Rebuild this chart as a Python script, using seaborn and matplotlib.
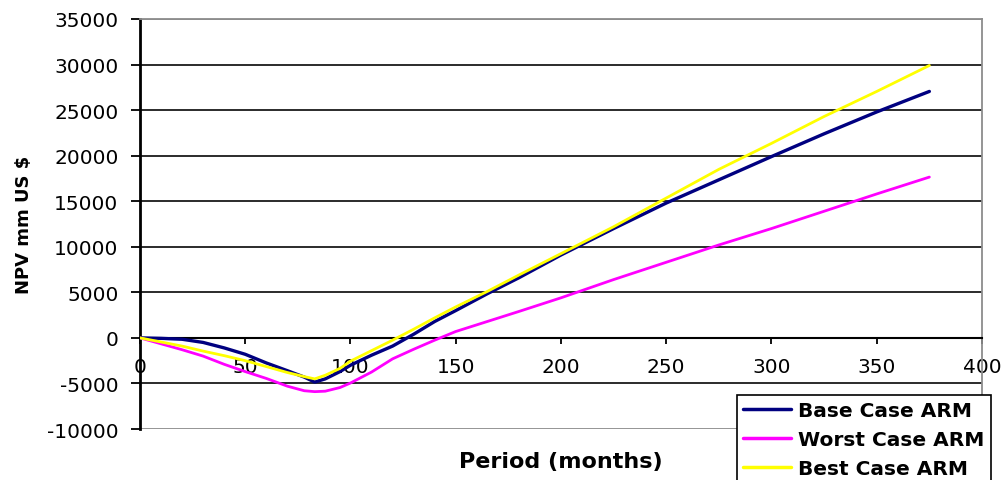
import matplotlib
matplotlib.use("Agg")
import matplotlib.pyplot as plt
import pandas as pd
import seaborn as sns

# Period in months and NPV (mm US $) for each ARM scenario
period = [0, 10, 20, 30, 40, 50, 60, 70, 78, 83, 88, 95, 100, 110, 120, 130,
          140, 150, 165, 180, 200, 225, 250, 275, 300, 325, 350, 375]

base_case = [0, -50, -150, -500, -1100, -1800, -2750, -3600, -4300, -4850,
             -4500, -3700, -3000, -1900, -900, 400, 1800, 3000, 4850, 6600,
             9100, 12000, 14800, 17350, 19900, 22400, 24800, 27050]

worst_case = [0, -650, -1300, -2000, -2900, -3700, -4450, -5300, -5800, -5900,
              -5850, -5450, -4950, -3750, -2300, -1250, -250, 700, 1800, 2900,
              4400, 6400, 8300, 10200, 12000, 13900, 15800, 17650]

best_case = [0, -450, -900, -1450, -1950, -2500, -3150, -3800, -4250, -4500,
             -4100, -3350, -2550, -1400, -250, 950, 2200, 3400, 5100, 6900,
             9250, 12200, 15350, 18500, 21350, 24300, 27050, 29900]

series_names = ["Base Case ARM", "Worst Case ARM", "Best Case ARM"]
series_colors = ["#000080", "#FF00FF", "#FFFF00"]

x_ticks = [0, 50, 100, 150, 200, 250, 300, 350, 400]
y_ticks = [-10000, -5000, 0, 5000, 10000, 15000, 20000, 25000, 30000, 35000]

df = pd.DataFrame({
    "Period": period * 3,
    "NPV": base_case + worst_case + best_case,
    "Case": [series_names[0]] * len(period)
            + [series_names[1]] * len(period)
            + [series_names[2]] * len(period),
})

sns.set_theme(style="white")
plt.rcParams["font.family"] = ["DejaVu Sans"]
plt.rcParams["text.color"] = "black"
plt.rcParams["axes.labelcolor"] = "black"

fig = plt.figure(figsize=(10.04, 4.81), dpi=100)
ax = fig.add_axes([140 / 1004, 1 - 430 / 481, 842 / 1004, 410 / 481])

widths = {series_names[0]: 2.4, series_names[1]: 2.0, series_names[2]: 2.0}
for name, color in zip(series_names, series_colors):
    sns.lineplot(data=df[df["Case"] == name], x="Period", y="NPV",
                 color=color, linewidth=widths[name], ax=ax, label=name,
                 legend=False, zorder=3)

ax.set_xlim(0, 400)
ax.set_ylim(-10000, 35000)
ax.set_xticks(x_ticks)
ax.set_yticks(y_ticks)
ax.set_xticklabels([str(v) for v in x_ticks])
ax.set_yticklabels([str(v) for v in y_ticks])

# horizontal gridlines; the outer two act as the plot-area border
ax.yaxis.grid(True, color="#1a1a1a", linewidth=1.3)
ax.xaxis.grid(False)
ax.set_axisbelow(True)
grid = ax.yaxis.get_gridlines()
grid[0].set_color("#8c8c8c")
grid[-1].set_color("#8c8c8c")

# x axis sits on the zero line
ax.spines["bottom"].set_position(("data", 0))
ax.spines["bottom"].set_color("black")
ax.spines["bottom"].set_linewidth(1.5)
ax.spines["left"].set_color("black")
ax.spines["left"].set_linewidth(2.0)
ax.spines["top"].set_color("#8c8c8c")
ax.spines["top"].set_linewidth(1.3)
ax.spines["right"].set_color("#8c8c8c")
ax.spines["right"].set_linewidth(1.3)

ax.tick_params(axis="x", direction="out", length=4.5, width=1.3,
               color="black", pad=9, labelsize=14.5, labelcolor="black",
               bottom=True)
ax.tick_params(axis="y", direction="out", length=6.5, width=1.3,
               color="black", pad=9, labelsize=14.5, labelcolor="black",
               left=True)

ax.set_xlabel("Period (months)", fontsize=16, fontweight="bold",
              color="black")
ax.set_ylabel("NPV mm US $", fontsize=13, fontweight="bold", color="black")
ax.xaxis.set_label_coords(0.5, -0.053)
ax.yaxis.set_label_coords(-0.127, 0.5)

handles = ax.get_lines()[:3]
leg = fig.legend(handles, series_names, loc="upper left",
                 bbox_to_anchor=(737 / 1004, 1 - 396 / 481),
                 bbox_transform=fig.transFigure,
                 prop={"size": 14.5, "weight": "bold"},
                 frameon=True, fancybox=False, framealpha=1,
                 edgecolor="black", borderpad=0.3, labelspacing=0.49,
                 handlelength=2.4, handletextpad=0.35, borderaxespad=0)
leg.get_frame().set_linewidth(1.2)
for text in leg.get_texts():
    text.set_color("black")
for line in leg.get_lines():
    line.set_linewidth(2.5)

fig.savefig("out.png", dpi=100)
